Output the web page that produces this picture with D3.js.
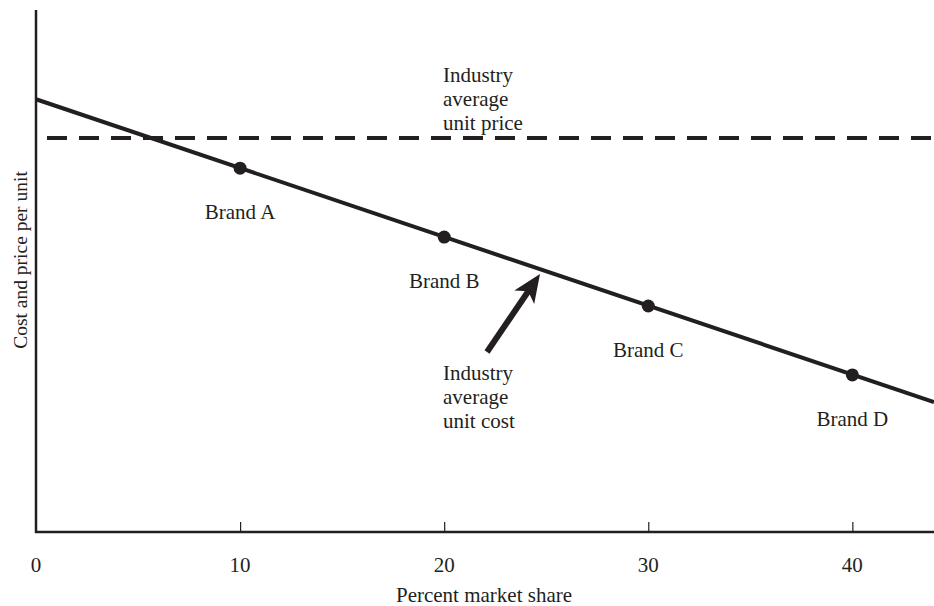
<!DOCTYPE html>
<html>
<head>
<meta charset="utf-8">
<script src="https://cdn.jsdelivr.net/npm/d3@7"></script>
<style>
  body { margin: 0; background: #fff; }
  text { font-family: "Liberation Serif", "DejaVu Serif", serif; fill: #231f20; }
</style>
</head>
<body>
<div id="chart"></div>
<script>
// market share (%) of each brand and its unit cost (arbitrary units)
var brands = ['Brand A', 'Brand B', 'Brand C', 'Brand D'];
var shares = [10, 20, 30, 40];
var costs = [6.97, 5.65, 4.33, 3.01];
// ends of the industry cost line
var costLineShare = [0, 44];
var costLineValue = [8.29, 2.49];
var avgPrice = 7.55;
var xTicks = [0, 10, 20, 30, 40];

var width = 934, height = 606;
var ink = '#231f20';
var fs = '21px';

var svg = d3.select('#chart').append('svg')
  .attr('width', width)
  .attr('height', height);

var x = d3.scaleLinear().domain([0, 44]).range([36, 934]);
var y = d3.scaleLinear().domain([0, 10]).range([532, 10]);

// axes
var xAxis = svg.append('g')
  .attr('transform', 'translate(0,' + y(0) + ')')
  .call(d3.axisBottom(x).tickValues(xTicks.slice(1)).tickSize(-10).tickFormat(''));
xAxis.select('.domain').remove();
xAxis.selectAll('.tick line').attr('stroke', ink).attr('stroke-width', 1.2);

svg.append('line')
  .attr('x1', x(0) - 1).attr('x2', width)
  .attr('y1', y(0)).attr('y2', y(0))
  .attr('stroke', ink).attr('stroke-width', 2.5);
svg.append('line')
  .attr('x1', x(0)).attr('x2', x(0))
  .attr('y1', y(10)).attr('y2', y(0) + 1)
  .attr('stroke', ink).attr('stroke-width', 2.5);

svg.selectAll('.xlab')
  .data(xTicks)
  .enter()
  .append('text')
  .attr('class', 'xlab')
  .attr('x', function(d) { return x(d); })
  .attr('y', 572)
  .attr('text-anchor', 'middle')
  .style('font-size', fs)
  .text(function(d) { return d; });

svg.append('text')
  .attr('x', 484).attr('y', 602)
  .attr('text-anchor', 'middle')
  .style('font-size', fs)
  .text('Percent market share');

svg.append('text')
  .attr('transform', 'translate(27,260) rotate(-90)')
  .attr('text-anchor', 'middle')
  .style('font-size', '19.5px')
  .text('Cost and price per unit');

// industry average price (dashed)
svg.append('line')
  .attr('x1', 47).attr('x2', width)
  .attr('y1', y(avgPrice)).attr('y2', y(avgPrice))
  .attr('stroke', ink).attr('stroke-width', 4)
  .attr('stroke-dasharray', '20,12');

// industry average cost line
var line = d3.line()
  .x(function(d) { return x(d[0]); })
  .y(function(d) { return y(d[1]); });
svg.append('path')
  .attr('d', line(d3.zip(costLineShare, costLineValue)))
  .attr('fill', 'none')
  .attr('stroke', ink)
  .attr('stroke-width', 4);

svg.selectAll('.dot')
  .data(shares)
  .enter()
  .append('circle')
  .attr('cx', function(d) { return x(d); })
  .attr('cy', function(d, i) { return y(costs[i]); })
  .attr('r', 6.5)
  .attr('fill', ink);

svg.selectAll('.brand')
  .data(brands)
  .enter()
  .append('text')
  .attr('x', function(d, i) { return x(shares[i]); })
  .attr('y', function(d, i) { return y(costs[i]) + 51; })
  .attr('text-anchor', 'middle')
  .style('font-size', fs)
  .text(function(d) { return d; });

// annotations
function block(lines, left, top, step) {
  var t = svg.append('text').style('font-size', fs);
  lines.forEach(function(s, i) {
    t.append('tspan').attr('x', left).attr('y', top + i * step).text(s);
  });
}
block(['Industry', 'average', 'unit price'], 443, 82, 24);
block(['Industry', 'average', 'unit cost'], 443, 380, 24);

// arrow pointing at the cost line
var tail = [487, 352], tip = [540, 274];
var dx = tip[0] - tail[0], dy = tip[1] - tail[1];
var len = Math.sqrt(dx * dx + dy * dy);
var ux = dx / len, uy = dy / len, px = -uy, py = ux;
var headLen = 28, headW = 12, notch = 7;
var base = [tip[0] - ux * headLen, tip[1] - uy * headLen];
var inner = [tip[0] - ux * (headLen - notch), tip[1] - uy * (headLen - notch)];

svg.append('line')
  .attr('x1', tail[0]).attr('y1', tail[1])
  .attr('x2', inner[0] + ux * 2).attr('y2', inner[1] + uy * 2)
  .attr('stroke', ink)
  .attr('stroke-width', 6);

svg.append('path')
  .attr('d', 'M' + tip + 'L' + [base[0] + px * headW, base[1] + py * headW] +
    'L' + inner + 'L' + [base[0] - px * headW, base[1] - py * headW] + 'Z')
  .attr('fill', ink);
</script>
</body>
</html>
